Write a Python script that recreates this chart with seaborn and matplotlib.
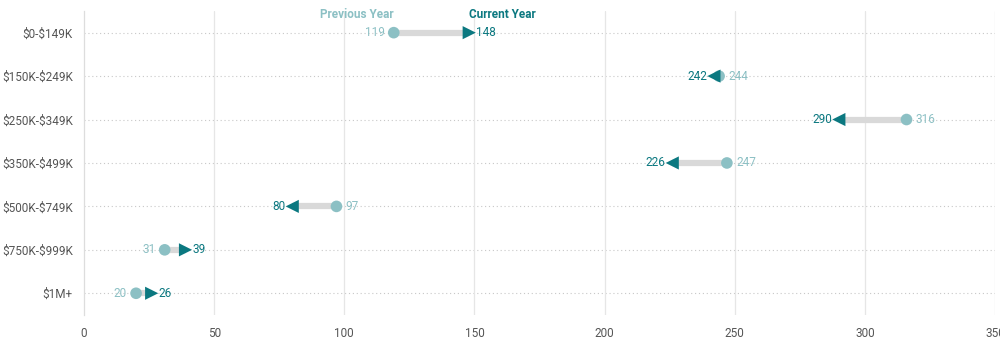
import matplotlib
matplotlib.use("Agg")
import matplotlib.pyplot as plt
import seaborn as sns
import pandas as pd
import numpy as np

categories = ["$0-$149K", "$150K-$249K", "$250K-$349K", "$350K-$499K",
              "$500K-$749K", "$750K-$999K", "$1M+"]
previous_year = [119, 244, 316, 247, 97, 31, 20]
current_year = [148, 242, 290, 226, 80, 39, 26]

PREV_C = "#8cc0c4"
CUR_C = "#0b7880"
LINE_C = "#d9d9d9"

sns.set_style("white")
plt.rcParams['font.family'] = ['Roboto', 'DejaVu Sans']
plt.rcParams['text.parse_math'] = False

df = pd.DataFrame({"cat": categories, "prev": previous_year, "cur": current_year})
df["y"] = np.arange(len(df))

fig = plt.figure(figsize=(10, 3.42), dpi=100)
ax = fig.add_axes([0.084, 0.079, 0.911, 0.889])

for y in df["y"]:
    ax.axhline(y, color="#c8c8c8", lw=0.8, ls=(0, (1, 2.5)), zorder=0)
for xv in range(50, 351, 50):
    ax.axvline(xv, color="#e6e6e6", lw=0.9, zorder=0)

ax.hlines(df["y"], df["prev"], df["cur"], color=LINE_C, lw=4.5, zorder=1)

sns.scatterplot(data=df, x="prev", y="y", color=PREV_C, s=70, edgecolor="none",
                ax=ax, zorder=3, legend=False)
up = df[df["cur"] >= df["prev"]]
down = df[df["cur"] < df["prev"]]
sns.scatterplot(data=up, x="cur", y="y", color=CUR_C, marker=">", s=90,
                edgecolor="none", ax=ax, zorder=4, legend=False)
sns.scatterplot(data=down, x="cur", y="y", color=CUR_C, marker="<", s=90,
                edgecolor="none", ax=ax, zorder=4, legend=False)

for _, r in df.iterrows():
    if r["cur"] >= r["prev"]:
        ax.text(r["prev"] - 3.5, r["y"], f"{r['prev']}", color=PREV_C, fontsize=8.5,
                ha="right", va="center")
        ax.text(r["cur"] + 2.5, r["y"], f"{r['cur']}", color=CUR_C, fontsize=8.5,
                ha="left", va="center")
    else:
        ax.text(r["prev"] + 3.5, r["y"], f"{r['prev']}", color=PREV_C, fontsize=8.5,
                ha="left", va="center")
        ax.text(r["cur"] - 2.5, r["y"], f"{r['cur']}", color=CUR_C, fontsize=8.5,
                ha="right", va="center")

ax.text(previous_year[0], -0.42, "Previous Year", color=PREV_C, fontsize=8.5,
        fontweight="bold", ha="right", va="center")
ax.text(current_year[0], -0.42, "Current Year", color=CUR_C, fontsize=8.5,
        fontweight="bold", ha="left", va="center")

ax.set_xlim(0, 350)
ax.set_ylim(6.5, -0.5)
ax.set_yticks(df["y"])
ax.set_yticklabels(categories)
ax.set_xticks(range(0, 351, 50))
ax.set_xlabel("")
ax.set_ylabel("")
ax.tick_params(axis="y", length=5, color="#bbbbbb", labelsize=8.5, labelcolor="#555555", pad=3)
ax.tick_params(axis="x", length=0, labelsize=8.5, labelcolor="#555555", pad=9)
for s in ["top", "right", "bottom"]:
    ax.spines[s].set_visible(False)
ax.spines["left"].set_color("#dddddd")
ax.spines["left"].set_linewidth(0.9)

fig.savefig("out.png", dpi=100)
